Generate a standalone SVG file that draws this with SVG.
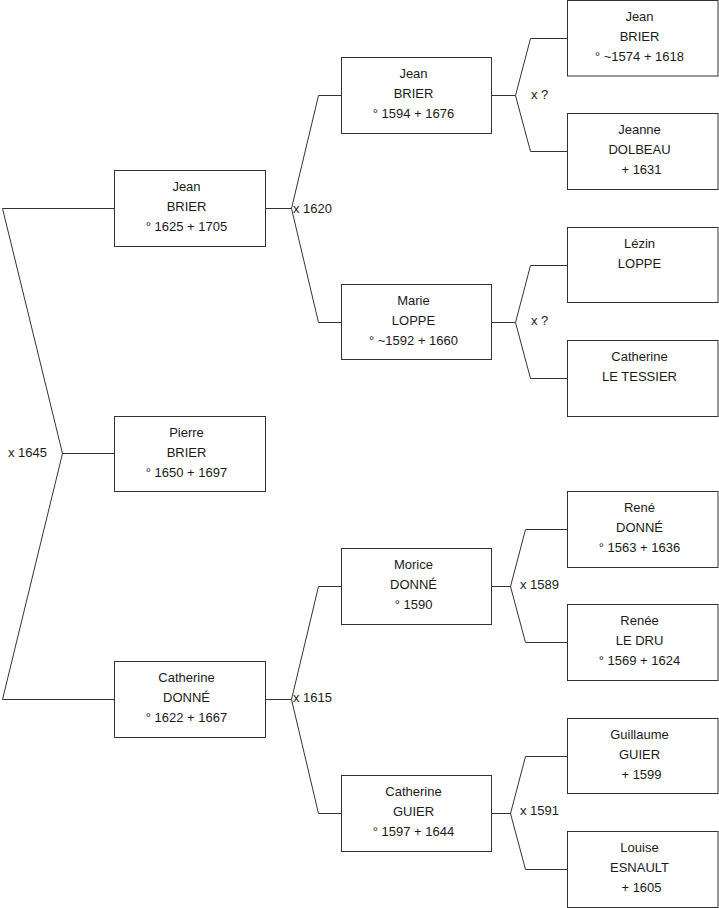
<svg xmlns="http://www.w3.org/2000/svg" width="719" height="908" viewBox="0 0 719 908">
<style>
  .box { fill: #ffffff; stroke: #333333; stroke-width: 1; }
  .con { fill: none; stroke: #333333; stroke-width: 1; }
  text { font-family: "Liberation Sans", Arial, sans-serif; font-size: 13px; fill: #1a1a1a; }
  .n { text-anchor: middle; }
</style>
<rect x="0" y="0" width="719" height="908" fill="#ffffff"/>
<g id="connectors">
  <path class="con" d="M114,208.5 H2.5 L62.5,453.5 L2.5,699.5 H114 M62.5,453.5 H114"/>
  <path class="con" d="M265,208.5 H291.5 L318.5,95.5 H341 M291.5,208.5 L318.5,322.5 H341"/>
  <path class="con" d="M265,699.5 H291.5 L318.5,586.5 H341 M291.5,699.5 L318.5,813.5 H341"/>
  <path class="con" d="M492,95.5 H515.5 L530.5,38.5 H567 M515.5,95.5 L530.5,151.5 H567"/>
  <path class="con" d="M492,322.5 H515.5 L530.5,265.5 H567 M515.5,322.5 L530.5,378.5 H567"/>
  <path class="con" d="M492,586.5 H510.5 L525.5,529.5 H567 M510.5,586.5 L525.5,642.5 H567"/>
  <path class="con" d="M492,813.5 H510.5 L525.5,756.5 H567 M510.5,813.5 L525.5,869.5 H567"/>
  <text x="8" y="457">x 1645</text>
  <text x="293" y="212.5">x 1620</text>
  <text x="293" y="702">x 1615</text>
  <text x="531" y="98.5">x ?</text>
  <text x="531" y="325">x ?</text>
  <text x="520" y="588.5">x 1589</text>
  <text x="520" y="815">x 1591</text>
</g>
<g id="n-jean-1625">
  <rect class="box" x="114.5" y="170.5" width="151" height="76"/>
  <text class="n" x="186.5" y="191">Jean</text>
  <text class="n" x="186.5" y="211">BRIER</text>
  <text class="n" x="186.5" y="231">° 1625 + 1705</text>
</g>
<g id="n-pierre">
  <rect class="box" x="114.5" y="416.5" width="151" height="75"/>
  <text class="n" x="186.5" y="437">Pierre</text>
  <text class="n" x="186.5" y="457">BRIER</text>
  <text class="n" x="186.5" y="477">° 1650 + 1697</text>
</g>
<g id="n-catherine-donne">
  <rect class="box" x="114.5" y="661.5" width="151" height="76"/>
  <text class="n" x="186.5" y="682">Catherine</text>
  <text class="n" x="186.5" y="702">DONNÉ</text>
  <text class="n" x="186.5" y="722">° 1622 + 1667</text>
</g>
<g id="n-jean-1594">
  <rect class="box" x="341.5" y="57.5" width="150" height="76"/>
  <text class="n" x="413.5" y="78">Jean</text>
  <text class="n" x="413.5" y="98">BRIER</text>
  <text class="n" x="413.5" y="118">° 1594 + 1676</text>
</g>
<g id="n-marie">
  <rect class="box" x="341.5" y="284.5" width="150" height="75"/>
  <text class="n" x="413.5" y="305">Marie</text>
  <text class="n" x="413.5" y="325">LOPPE</text>
  <text class="n" x="413.5" y="345">° ~1592 + 1660</text>
</g>
<g id="n-morice">
  <rect class="box" x="341.5" y="548.5" width="150" height="76"/>
  <text class="n" x="413.5" y="569">Morice</text>
  <text class="n" x="413.5" y="589">DONNÉ</text>
  <text class="n" x="413.5" y="609">° 1590</text>
</g>
<g id="n-catherine-guier">
  <rect class="box" x="341.5" y="775.5" width="150" height="76"/>
  <text class="n" x="413.5" y="796">Catherine</text>
  <text class="n" x="413.5" y="816">GUIER</text>
  <text class="n" x="413.5" y="836">° 1597 + 1644</text>
</g>
<g id="n-jean-1574">
  <rect class="box" x="567.5" y="0.5" width="150.5" height="75.5"/>
  <text class="n" x="639.5" y="21">Jean</text>
  <text class="n" x="639.5" y="41">BRIER</text>
  <text class="n" x="639.5" y="61">° ~1574 + 1618</text>
</g>
<g id="n-jeanne">
  <rect class="box" x="567.5" y="113.5" width="150.5" height="76"/>
  <text class="n" x="639.5" y="134">Jeanne</text>
  <text class="n" x="639.5" y="154">DOLBEAU</text>
  <text class="n" x="641.5" y="174">+ 1631</text>
</g>
<g id="n-lezin">
  <rect class="box" x="567.5" y="227.5" width="150.5" height="75"/>
  <text class="n" x="639.5" y="248">Lézin</text>
  <text class="n" x="639.5" y="268">LOPPE</text>
</g>
<g id="n-catherine-tessier">
  <rect class="box" x="567.5" y="340.5" width="150.5" height="76"/>
  <text class="n" x="639.5" y="361">Catherine</text>
  <text class="n" x="639.5" y="381">LE TESSIER</text>
</g>
<g id="n-rene">
  <rect class="box" x="567.5" y="491.5" width="150.5" height="76"/>
  <text class="n" x="639.5" y="512">René</text>
  <text class="n" x="639.5" y="532">DONNÉ</text>
  <text class="n" x="639.5" y="552">° 1563 + 1636</text>
</g>
<g id="n-renee">
  <rect class="box" x="567.5" y="604.5" width="150.5" height="76"/>
  <text class="n" x="639.5" y="625">Renée</text>
  <text class="n" x="639.5" y="645">LE DRU</text>
  <text class="n" x="639.5" y="665">° 1569 + 1624</text>
</g>
<g id="n-guillaume">
  <rect class="box" x="567.5" y="718.5" width="150.5" height="75"/>
  <text class="n" x="639.5" y="739">Guillaume</text>
  <text class="n" x="639.5" y="759">GUIER</text>
  <text class="n" x="641.5" y="779">+ 1599</text>
</g>
<g id="n-louise">
  <rect class="box" x="567.5" y="831.5" width="150.5" height="76"/>
  <text class="n" x="639.5" y="852">Louise</text>
  <text class="n" x="639.5" y="872">ESNAULT</text>
  <text class="n" x="641.5" y="892">+ 1605</text>
</g>
</svg>
